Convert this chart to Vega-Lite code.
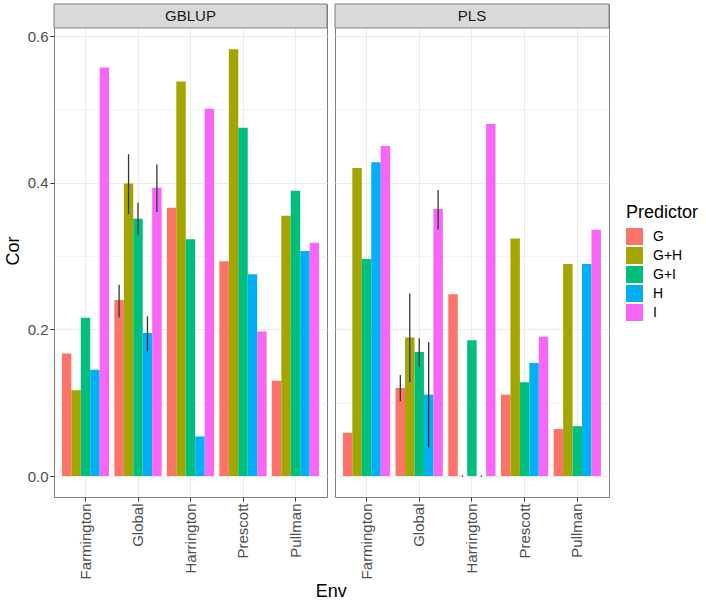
{
  "$schema": "https://vega.github.io/schema/vega-lite/v6.json",
  "padding": {"left": 3, "top": 3, "right": 5, "bottom": 5},
  "datasets": {
    "bars": [
      {"Method": "GBLUP", "Env": "Farmington", "Predictor": "G", "Cor": 0.167},
      {"Method": "GBLUP", "Env": "Farmington", "Predictor": "G+H", "Cor": 0.117},
      {"Method": "GBLUP", "Env": "Farmington", "Predictor": "G+I", "Cor": 0.216},
      {"Method": "GBLUP", "Env": "Farmington", "Predictor": "H", "Cor": 0.145},
      {"Method": "GBLUP", "Env": "Farmington", "Predictor": "I", "Cor": 0.557},
      {"Method": "GBLUP", "Env": "Global", "Predictor": "G", "Cor": 0.240},
      {"Method": "GBLUP", "Env": "Global", "Predictor": "G+H", "Cor": 0.399},
      {"Method": "GBLUP", "Env": "Global", "Predictor": "G+I", "Cor": 0.351},
      {"Method": "GBLUP", "Env": "Global", "Predictor": "H", "Cor": 0.195},
      {"Method": "GBLUP", "Env": "Global", "Predictor": "I", "Cor": 0.393},
      {"Method": "GBLUP", "Env": "Harrington", "Predictor": "G", "Cor": 0.366},
      {"Method": "GBLUP", "Env": "Harrington", "Predictor": "G+H", "Cor": 0.538},
      {"Method": "GBLUP", "Env": "Harrington", "Predictor": "G+I", "Cor": 0.323},
      {"Method": "GBLUP", "Env": "Harrington", "Predictor": "H", "Cor": 0.054},
      {"Method": "GBLUP", "Env": "Harrington", "Predictor": "I", "Cor": 0.501},
      {"Method": "GBLUP", "Env": "Prescott", "Predictor": "G", "Cor": 0.293},
      {"Method": "GBLUP", "Env": "Prescott", "Predictor": "G+H", "Cor": 0.582},
      {"Method": "GBLUP", "Env": "Prescott", "Predictor": "G+I", "Cor": 0.475},
      {"Method": "GBLUP", "Env": "Prescott", "Predictor": "H", "Cor": 0.275},
      {"Method": "GBLUP", "Env": "Prescott", "Predictor": "I", "Cor": 0.197},
      {"Method": "GBLUP", "Env": "Pullman", "Predictor": "G", "Cor": 0.130},
      {"Method": "GBLUP", "Env": "Pullman", "Predictor": "G+H", "Cor": 0.355},
      {"Method": "GBLUP", "Env": "Pullman", "Predictor": "G+I", "Cor": 0.389},
      {"Method": "GBLUP", "Env": "Pullman", "Predictor": "H", "Cor": 0.307},
      {"Method": "GBLUP", "Env": "Pullman", "Predictor": "I", "Cor": 0.318},
      {"Method": "PLS", "Env": "Farmington", "Predictor": "G", "Cor": 0.059},
      {"Method": "PLS", "Env": "Farmington", "Predictor": "G+H", "Cor": 0.420},
      {"Method": "PLS", "Env": "Farmington", "Predictor": "G+I", "Cor": 0.296},
      {"Method": "PLS", "Env": "Farmington", "Predictor": "H", "Cor": 0.428},
      {"Method": "PLS", "Env": "Farmington", "Predictor": "I", "Cor": 0.450},
      {"Method": "PLS", "Env": "Global", "Predictor": "G", "Cor": 0.120},
      {"Method": "PLS", "Env": "Global", "Predictor": "G+H", "Cor": 0.189},
      {"Method": "PLS", "Env": "Global", "Predictor": "G+I", "Cor": 0.169},
      {"Method": "PLS", "Env": "Global", "Predictor": "H", "Cor": 0.111},
      {"Method": "PLS", "Env": "Global", "Predictor": "I", "Cor": 0.364},
      {"Method": "PLS", "Env": "Harrington", "Predictor": "G", "Cor": 0.248},
      {"Method": "PLS", "Env": "Harrington", "Predictor": "G+H", "Cor": 0.0},
      {"Method": "PLS", "Env": "Harrington", "Predictor": "G+I", "Cor": 0.185},
      {"Method": "PLS", "Env": "Harrington", "Predictor": "H", "Cor": 0.0},
      {"Method": "PLS", "Env": "Harrington", "Predictor": "I", "Cor": 0.480},
      {"Method": "PLS", "Env": "Prescott", "Predictor": "G", "Cor": 0.111},
      {"Method": "PLS", "Env": "Prescott", "Predictor": "G+H", "Cor": 0.324},
      {"Method": "PLS", "Env": "Prescott", "Predictor": "G+I", "Cor": 0.128},
      {"Method": "PLS", "Env": "Prescott", "Predictor": "H", "Cor": 0.154},
      {"Method": "PLS", "Env": "Prescott", "Predictor": "I", "Cor": 0.190},
      {"Method": "PLS", "Env": "Pullman", "Predictor": "G", "Cor": 0.064},
      {"Method": "PLS", "Env": "Pullman", "Predictor": "G+H", "Cor": 0.289},
      {"Method": "PLS", "Env": "Pullman", "Predictor": "G+I", "Cor": 0.068},
      {"Method": "PLS", "Env": "Pullman", "Predictor": "H", "Cor": 0.289},
      {"Method": "PLS", "Env": "Pullman", "Predictor": "I", "Cor": 0.336}
    ],
    "err": [
      {"Method": "GBLUP", "Env": "Global", "Predictor": "G", "lo": 0.217, "hi": 0.260},
      {"Method": "GBLUP", "Env": "Global", "Predictor": "G+H", "lo": 0.358, "hi": 0.438},
      {"Method": "GBLUP", "Env": "Global", "Predictor": "G+I", "lo": 0.330, "hi": 0.372},
      {"Method": "GBLUP", "Env": "Global", "Predictor": "H", "lo": 0.171, "hi": 0.217},
      {"Method": "GBLUP", "Env": "Global", "Predictor": "I", "lo": 0.361, "hi": 0.424},
      {"Method": "PLS", "Env": "Global", "Predictor": "G", "lo": 0.103, "hi": 0.137},
      {"Method": "PLS", "Env": "Global", "Predictor": "G+H", "lo": 0.129, "hi": 0.248},
      {"Method": "PLS", "Env": "Global", "Predictor": "G+I", "lo": 0.150, "hi": 0.187},
      {"Method": "PLS", "Env": "Global", "Predictor": "H", "lo": 0.040, "hi": 0.182},
      {"Method": "PLS", "Env": "Global", "Predictor": "I", "lo": 0.337, "hi": 0.389},
      {"Method": "PLS", "Env": "Harrington", "Predictor": "G+H", "lo": 0.0, "hi": 0.0},
      {"Method": "PLS", "Env": "Harrington", "Predictor": "H", "lo": 0.0, "hi": 0.0}
    ]
  },
  "hconcat": [
    {
      "width": 273,
      "height": 493,
      "layer": [
        {
          "data": {"name": "bars"},
          "transform": [{"filter": "datum.Method === 'GBLUP'"}],
          "mark": {"type": "bar"},
          "encoding": {
            "x": {"field": "Env", "type": "nominal", "scale": {"paddingInner": 0.1, "paddingOuter": 0.15}, "axis": {"title": null}},
            "xOffset": {"field": "Predictor", "type": "nominal", "scale": {"paddingInner": 0, "paddingOuter": 0}},
            "y": {"field": "Cor", "type": "quantitative", "scale": {"domain": [-0.0286, 0.6437], "nice": false, "zero": false},
              "axis": {"title": "Cor", "values": [0, 0.1, 0.2, 0.3, 0.4, 0.5, 0.6],
                "labelExpr": "round(datum.value*10) % 2 == 0 ? format(datum.value, '.1f') : ''",
                "tickOpacity": {"condition": {"test": "round(datum.value*10) % 2 == 1", "value": 0}, "value": 1},
                "gridWidth": {"condition": {"test": "round(datum.value*10) % 2 == 1", "value": 0.6}, "value": 1}}},
            "y2": {"datum": 0},
            "color": {"field": "Predictor", "type": "nominal",
              "scale": {"domain": ["G", "G+H", "G+I", "H", "I"], "range": ["#FC7369", "#A3A500", "#00BF7D", "#00B0F6", "#F866F8"]},
              "legend": {"title": "Predictor"}}
          }
        },
        {
          "data": {"name": "err"},
          "transform": [{"filter": "datum.Method === 'GBLUP'"}],
          "mark": {"type": "rule", "color": "#333333", "strokeWidth": 1.3, "strokeCap": "square"},
          "encoding": {
            "x": {"field": "Env", "type": "nominal"},
            "xOffset": {"field": "Predictor", "type": "nominal"},
            "y": {"field": "lo", "type": "quantitative"},
            "y2": {"field": "hi"}
          }
        },
        {
          "data": {"values": [{"Method": "GBLUP"}]},
          "mark": {"type": "rect", "fill": "#D9D9D9", "stroke": "#7F7F7F", "strokeWidth": 1},
          "encoding": {"y": {"datum": 0.611}, "y2": {"datum": 0.6437}}
        },
        {
          "data": {"values": [{"Method": "GBLUP"}]},
          "mark": {"type": "text", "fontSize": 15, "color": "#1A1A1A", "baseline": "middle"},
          "encoding": {"y": {"datum": 0.6273}, "text": {"field": "Method"}}
        }
      ]
    },
    {
      "width": 274,
      "height": 493,
      "layer": [
        {
          "data": {"name": "bars"},
          "transform": [{"filter": "datum.Method === 'PLS'"}],
          "mark": {"type": "bar"},
          "encoding": {
            "x": {"field": "Env", "type": "nominal", "scale": {"paddingInner": 0.1, "paddingOuter": 0.15}, "axis": {"title": null}},
            "xOffset": {"field": "Predictor", "type": "nominal", "scale": {"paddingInner": 0, "paddingOuter": 0}},
            "y": {"field": "Cor", "type": "quantitative", "scale": {"domain": [-0.0286, 0.6437], "nice": false, "zero": false},
              "axis": {"title": null, "labels": false, "ticks": false, "values": [0, 0.1, 0.2, 0.3, 0.4, 0.5, 0.6],
                "gridWidth": {"condition": {"test": "round(datum.value*10) % 2 == 1", "value": 0.6}, "value": 1}}},
            "y2": {"datum": 0},
            "color": {"field": "Predictor", "type": "nominal",
              "scale": {"domain": ["G", "G+H", "G+I", "H", "I"], "range": ["#FC7369", "#A3A500", "#00BF7D", "#00B0F6", "#F866F8"]},
              "legend": {"title": "Predictor"}}
          }
        },
        {
          "data": {"name": "err"},
          "transform": [{"filter": "datum.Method === 'PLS'"}],
          "mark": {"type": "rule", "color": "#333333", "strokeWidth": 1.3, "strokeCap": "square"},
          "encoding": {
            "x": {"field": "Env", "type": "nominal"},
            "xOffset": {"field": "Predictor", "type": "nominal"},
            "y": {"field": "lo", "type": "quantitative"},
            "y2": {"field": "hi"}
          }
        },
        {
          "data": {"values": [{"Method": "PLS"}]},
          "mark": {"type": "rect", "fill": "#D9D9D9", "stroke": "#7F7F7F", "strokeWidth": 1},
          "encoding": {"y": {"datum": 0.611}, "y2": {"datum": 0.6437}}
        },
        {
          "data": {"values": [{"Method": "PLS"}]},
          "mark": {"type": "text", "fontSize": 15, "color": "#1A1A1A", "baseline": "middle"},
          "encoding": {"y": {"datum": 0.6273}, "text": {"field": "Method"}}
        }
      ]
    }
  ],
  "spacing": 6,
  "resolve": {"scale": {"color": "shared"}},
  "title": {"text": "Env", "orient": "bottom", "anchor": "middle", "frame": "bounds", "dx": -20, "fontSize": 18, "fontWeight": "normal", "color": "#000000", "offset": 4},
  "config": {
    "font": "Liberation Sans",
    "view": {"stroke": "#7F7F7F", "strokeWidth": 1},
    "axis": {
      "domain": false,
      "grid": true,
      "gridColor": "#EBEBEB",
      "labelFontSize": 15,
      "labelColor": "#4D4D4D",
      "tickColor": "#333333",
      "tickSize": 4,
      "labelPadding": 2,
      "titleFontSize": 18,
      "titleFontWeight": "normal",
      "titleColor": "#000000",
      "titlePadding": 5
    },
    "axisX": {"labelAngle": 270, "labelAlign": "right", "labelBaseline": "middle"},
    "legend": {
      "orient": "none",
      "legendX": 572,
      "legendY": 200,
      "titleFontSize": 18,
      "titleFontWeight": "normal",
      "titleColor": "#000000",
      "titlePadding": 6,
      "labelFontSize": 14,
      "labelColor": "#000000",
      "symbolType": "square",
      "symbolSize": 289,
      "symbolStrokeWidth": 0,
      "symbolOpacity": 1,
      "rowPadding": 2,
      "labelOffset": 10
    }
  }
}
